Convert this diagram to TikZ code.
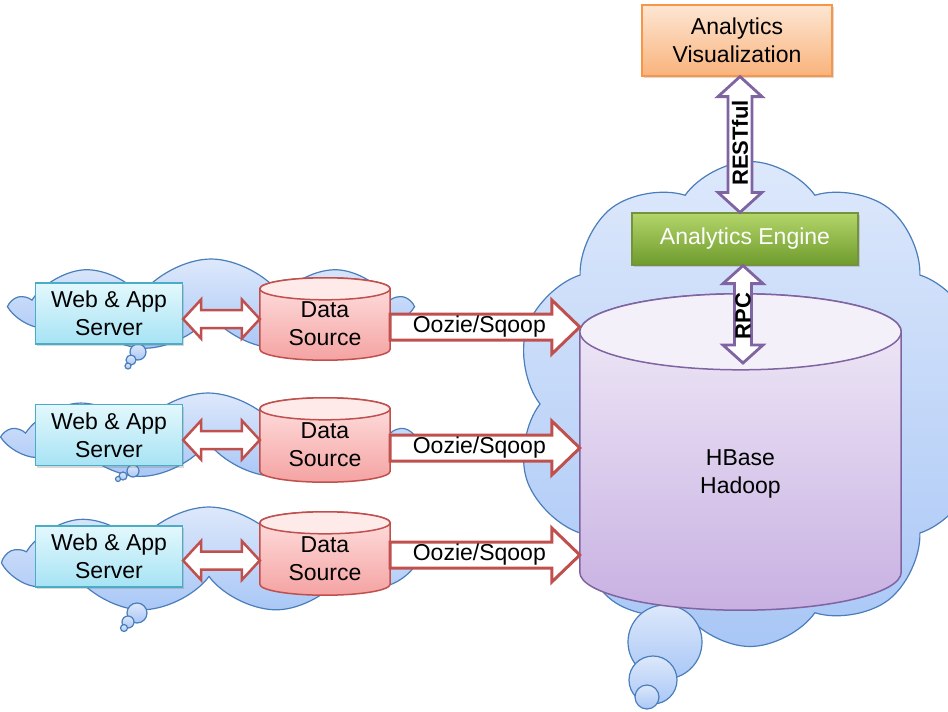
\documentclass[tikz,border=0pt]{standalone}
\usepackage{fontspec}
\setmainfont{Liberation Sans}
\usetikzlibrary{calc,shapes.symbols,shadows}

\definecolor{webTop}{HTML}{E3F8FD}
\definecolor{webBot}{HTML}{A6E3F4}
\definecolor{webLine}{HTML}{4BACC6}
\definecolor{dsTop}{HTML}{FFE2E2}
\definecolor{dsBot}{HTML}{F4A3A2}
\definecolor{dsCap}{HTML}{FFEAEA}
\definecolor{redLine}{HTML}{C0504D}
\definecolor{purLine}{HTML}{8064A2}
\definecolor{hbTop}{HTML}{F1ECF8}
\definecolor{hbBot}{HTML}{C8B1E2}
\definecolor{hbCap}{HTML}{F4F0FA}
\definecolor{avTop}{HTML}{FDE6D3}
\definecolor{avBot}{HTML}{F9B37C}
\definecolor{avLine}{HTML}{F79646}
\definecolor{aeTop}{HTML}{B3D56A}
\definecolor{aeBot}{HTML}{6F9B2D}
\definecolor{aeLine}{HTML}{76923C}
\definecolor{clTop}{HTML}{DDE8FB}
\definecolor{clBot}{HTML}{A9C7F6}
\definecolor{clLine}{HTML}{4A7EBB}

% cylinder drawn from the corners of a named node: #1 node, #2 y radius, #3 body style, #4 cap style
\newcommand{\cylshape}[4]{%
  \path[#3] let \p1=(#1.north west), \p2=(#1.south east), \n1={(\x2-\x1)/2} in
    (\x1,\y1-#2pt) -- (\x1,\y2+#2pt)
    arc[start angle=180,end angle=360,x radius=\n1,y radius=#2pt]
    -- (\x2,\y1-#2pt)
    arc[start angle=0,end angle=180,x radius=\n1,y radius=#2pt] -- cycle;
  \path[#4] let \p1=(#1.north west), \p2=(#1.south east), \n1={(\x2-\x1)/2} in
    (\x1+\n1,\y1-#2pt) ellipse[x radius=\n1,y radius=#2pt];
}
% horizontal double block arrow: #1 style, #2 left tip, #3 right tip, #4 shaft half, #5 head half, #6 head length
\newcommand{\hdarrow}[6]{%
  \path[#1] let \p1=#2, \p2=#3 in
    (\x1,\y1) -- (\x1+#6pt,\y1+#5pt) -- (\x1+#6pt,\y1+#4pt) -- (\x2-#6pt,\y1+#4pt)
    -- (\x2-#6pt,\y1+#5pt) -- (\x2,\y1) -- (\x2-#6pt,\y1-#5pt) -- (\x2-#6pt,\y1-#4pt)
    -- (\x1+#6pt,\y1-#4pt) -- (\x1+#6pt,\y1-#5pt) -- cycle;
}
% horizontal single block arrow: #1 style, #2 tail, #3 tip
\newcommand{\hsarrow}[6]{%
  \path[#1] let \p1=#2, \p2=#3 in
    (\x1,\y2+#4pt) -- (\x2-#6pt,\y2+#4pt) -- (\x2-#6pt,\y2+#5pt) -- (\x2,\y2)
    -- (\x2-#6pt,\y2-#5pt) -- (\x2-#6pt,\y2-#4pt) -- (\x1,\y2-#4pt) -- cycle;
}
% vertical double block arrow: #1 style, #2 top tip, #3 bottom tip
\newcommand{\vdarrow}[6]{%
  \path[#1] let \p1=#2, \p2=#3 in
    (\x1,\y1) -- (\x1+#5pt,\y1-#6pt) -- (\x1+#4pt,\y1-#6pt) -- (\x1+#4pt,\y2+#6pt)
    -- (\x1+#5pt,\y2+#6pt) -- (\x1,\y2) -- (\x1-#5pt,\y2+#6pt) -- (\x1-#4pt,\y2+#6pt)
    -- (\x1-#4pt,\y1-#6pt) -- (\x1-#5pt,\y1-#6pt) -- cycle;
}

\begin{document}
\begin{tikzpicture}[x=1pt,y=-1pt,
  every node/.style={font=\fontsize{23}{28}\selectfont, align=center, inner sep=0pt},
  cloudsh/.style={cloud, cloud puffs=#1, cloud puff arc=110, cloud ignores aspect,
    draw=clLine, line width=1.2pt, top color=clTop, bottom color=clBot},
  bubble/.style={draw=clLine, line width=1.2pt, top color=clTop, bottom color=clBot},
  shadowed/.style={drop shadow={shadow xshift=1.5pt, shadow yshift=-2pt, opacity=0.3}},
  webbox/.style={shadowed, draw=webLine, line width=1.2pt, top color=webTop, bottom color=webBot,
    minimum width=147pt, minimum height=61pt},
  area/.style={minimum width=#1, inner sep=0pt},
  dsbody/.style={draw=redLine, line width=1.5pt, top color=dsTop, bottom color=dsBot},
  dscap/.style={draw=redLine, line width=1.5pt, fill=dsCap},
  hbbody/.style={draw=purLine, line width=1.5pt, top color=hbTop, bottom color=hbBot},
  hbcap/.style={draw=purLine, line width=1.5pt, fill=hbCap},
  redarrow/.style={draw=redLine, line width=2.5pt, fill=white, line join=miter},
  ozarrow/.style={draw=redLine, line width=3pt, fill=white, line join=miter},
  purarrow/.style={draw=purLine, line width=2.8pt, fill=white, line join=miter},
  boldlabel/.style={rotate=90, font=\bfseries\fontsize{22}{26}\selectfont}
]
\useasboundingbox (0,0) rectangle (948,712);
\clip (0,0) rectangle (948,712);

% big cloud
\node[cloudsh=10, minimum width=470pt, minimum height=485pt] (bigcloud) at (750,404) {};
\path[bubble] (665,642) circle[radius=37pt];
\path[bubble] (653,680) circle[radius=24pt];
\path[bubble] (647,697) circle[radius=12pt];

% left clouds
\node[cloudsh=9, minimum width=392pt, minimum height=92pt] (cl1) at (211,305) {};
\path[bubble] (138,352) circle[radius=8pt];
\path[bubble] (131,360) circle[radius=5pt];
\path[bubble] (128,366) circle[radius=3pt];
\node[cloudsh=9, minimum width=398pt, minimum height=86pt] (cl2) at (208,436) {};
\path[bubble] (133,471) circle[radius=6pt];
\path[bubble] (123,476) circle[radius=4pt];
\path[bubble] (118,479) circle[radius=2.5pt];
\node[cloudsh=9, minimum width=402pt, minimum height=106pt] (cl3) at (209,560) {};
\path[bubble] (137,613) circle[radius=10pt];
\path[bubble] (128,622) circle[radius=6pt];
\path[bubble] (124,628) circle[radius=3.5pt];

% geometry of cylinders
\node[area=321pt, minimum height=316pt] (hb) at (740.5,452) {};
\node[area=130pt, minimum height=82pt] (ds1) at (325,319) {};
\node[area=130pt, minimum height=84pt] (ds2) at (325,440) {};
\node[area=130pt, minimum height=83pt] (ds3) at (325,553.5) {};

\cylshape{hb}{38}{hbbody}{hbcap}
\cylshape{ds1}{11}{dsbody}{dscap}
\cylshape{ds2}{11}{dsbody}{dscap}
\cylshape{ds3}{11}{dsbody}{dscap}

% boxes
\node[webbox] (ws1) at (109,313.5) {Web \& App\\Server};
\node[webbox] (ws2) at (109,435) {Web \& App\\Server};
\node[webbox] (ws3) at (109,556.5) {Web \& App\\Server};
\node[shadowed, draw=avLine, line width=1.2pt, top color=avTop, bottom color=avBot,
  minimum width=190pt, minimum height=71pt] (av) at (737,40.5) {Analytics\\Visualization};
\node[shadowed, draw=aeLine, line width=1.2pt, top color=aeTop, bottom color=aeBot, text=white,
  minimum width=226pt, minimum height=52pt] (ae) at (745,239) {Analytics Engine};

% texts of cylinders
\node (dst1) at ($(ds1)+(0,5)$) {Data\\Source};
\node (dst2) at ($(ds2)+(0,5)$) {Data\\Source};
\node (dst3) at ($(ds3)+(0,5)$) {Data\\Source};

% web <-> data source
\coordinate (r1) at (ds1.west);
\coordinate (r2) at (ds2.west);
\coordinate (r3) at ($(ds3.west)+(0,7)$);
\hdarrow{redarrow}{(ws1.east |- r1)}{(r1)}{9}{19.5}{18}
\hdarrow{redarrow}{(ws2.east |- r2)}{(r2)}{9}{19.5}{18}
\hdarrow{redarrow}{(ws3.east |- r3)}{(r3)}{9}{19.5}{18}

% Oozie/Sqoop arrows
\coordinate (oz1) at (hb.west |- 0,327);
\coordinate (oz2) at (hb.west |- 0,448);
\coordinate (oz3) at (hb.west |- 0,555);
\hsarrow{ozarrow}{(ds1.east |- oz1)}{(oz1)}{13}{27}{28}
\hsarrow{ozarrow}{(ds2.east |- oz2)}{(oz2)}{13}{27}{28}
\hsarrow{ozarrow}{(ds3.east |- oz3)}{(oz3)}{13}{27}{28}
\node (ozt1) at ($(ds1.east |- oz1)!0.47!(oz1)$) {Oozie/Sqoop};
\node (ozt2) at ($(ds2.east |- oz2)!0.47!(oz2)$) {Oozie/Sqoop};
\node (ozt3) at ($(ds3.east |- oz3)!0.47!(oz3)$) {Oozie/Sqoop};

% HBase label
\node (hbt) at ($(hb)+(0,22)$) {HBase\\Hadoop};

% RESTful and RPC
\coordinate (restx) at (740,0);
\coordinate (rpcend) at (743,363);
\vdarrow{purarrow}{(restx |- av.south)}{(restx |- ae.north)}{12}{22}{20}
\vdarrow{purarrow}{(rpcend |- ae.south)}{(rpcend)}{8.5}{20}{18}
\node[boldlabel] (restt) at (740,143) {RESTful};
\node[boldlabel] (rpct) at (743,316) {RPC};
\end{tikzpicture}
\end{document}
